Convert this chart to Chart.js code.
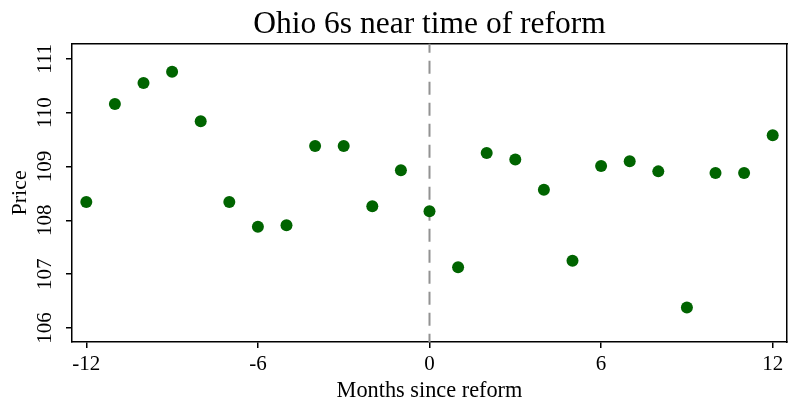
<!DOCTYPE html>
<html>
<head>
<meta charset="utf-8">
<script src="https://cdn.jsdelivr.net/npm/chart.js@4/dist/chart.umd.min.js"></script>
<style>
  html, body { margin: 0; padding: 0; background: #fff; }
  #wrap { width: 788px; height: 408px; }
</style>
</head>
<body>
<div id="wrap"><canvas id="c" width="788" height="408"></canvas></div>
<script>
// Months relative to the reform date
const months = [-12, -11, -10, -9, -8, -7, -6, -5, -4, -3, -2, -1, 0,
                1, 2, 3, 4, 5, 6, 7, 8, 9, 10, 11, 12];
// Ohio 6s price per month
const prices = [108.34, 110.16, 110.55, 110.76, 109.84, 108.34, 107.88, 107.91, 109.38, 109.38, 108.26, 108.93, 108.17,
                107.13, 109.25, 109.13, 108.57, 107.25, 109.01, 109.10, 108.91, 106.38, 108.88, 108.88, 109.58];
const xTicks = [-12, -6, 0, 6, 12];
const yTicks = [106, 107, 108, 109, 110, 111];
const reformMonth = 0;

const serif = '"Liberation Serif", "DejaVu Serif", serif';

// Dashed marker at the reform month
const reformLine = {
  id: 'reformLine',
  beforeDatasetsDraw(chart) {
    const { ctx, chartArea, scales } = chart;
    const x = scales.x.getPixelForValue(reformMonth);
    ctx.save();
    ctx.strokeStyle = '#929292';
    ctx.lineWidth = 2;
    ctx.setLineDash([13, 8]);
    ctx.lineDashOffset = 4;
    ctx.beginPath();
    ctx.moveTo(x, chartArea.top);
    ctx.lineTo(x, chartArea.bottom);
    ctx.stroke();
    ctx.restore();
  }
};

// Vertical (rotated) tick labels on the price axis
const yLabels = {
  id: 'yLabels',
  afterDraw(chart) {
    const { ctx, scales } = chart;
    const y = scales.y;
    ctx.save();
    ctx.fillStyle = '#000';
    ctx.font = '21px ' + serif;
    ctx.textAlign = 'center';
    ctx.textBaseline = 'middle';
    y.ticks.forEach(t => {
      const py = y.getPixelForValue(t.value);
      ctx.save();
      ctx.translate(45.5, py);
      ctx.rotate(-Math.PI / 2);
      ctx.fillText(String(t.value), 0, 0);
      ctx.restore();
    });
    ctx.restore();
  }
};

new Chart(document.getElementById('c'), {
  type: 'scatter',
  data: {
    datasets: [{
      data: months.map((m, i) => ({ x: m, y: prices[i] })),
      backgroundColor: '#006400',
      borderColor: '#006400',
      pointRadius: 6,
      pointBorderWidth: 0
    }]
  },
  options: {
    responsive: false,
    animation: false,
    events: [],
    layout: { autoPadding: false, padding: { left: 0, right: 1, top: 0, bottom: 0 } },
    plugins: {
      legend: { display: false },
      tooltip: { enabled: false },
      title: {
        display: true,
        text: 'Ohio 6s near time of reform',
        fullSize: false,
        color: '#000',
        font: { family: serif, size: 31.5, weight: 'normal', lineHeight: 1.2 },
        padding: { top: 6, bottom: 0 }
      }
    },
    scales: {
      x: {
        type: 'linear',
        min: -12.5,
        max: 12.5,
        afterBuildTicks: s => { s.ticks = xTicks.map(v => ({ value: v })); },
        afterFit: s => { s.height = 66; s.paddingLeft = 0; s.paddingRight = 0; },
        grid: { display: true, drawOnChartArea: false, drawTicks: true, tickLength: 6, color: '#000', lineWidth: 1.5 },
        border: { display: true, color: '#000', width: 1.5 },
        ticks: { color: '#000', font: { family: serif, size: 21 }, padding: 4, maxRotation: 0 },
        title: {
          display: true,
          text: 'Months since reform',
          color: '#000',
          font: { family: serif, size: 22.3 },
          padding: { top: 0, bottom: 3 }
        }
      },
      x2: {
        type: 'linear',
        position: 'top',
        min: -12.5,
        max: 12.5,
        afterFit: s => { s.height = 0; },
        grid: { display: false },
        border: { display: true, color: '#000', width: 1.5 },
        ticks: { display: false }
      },
      y: {
        type: 'linear',
        min: 105.74,
        max: 111.28,
        afterBuildTicks: s => { s.ticks = yTicks.map(v => ({ value: v })); },
        afterFit: s => { s.width = 72; },
        grid: { display: true, drawOnChartArea: false, drawTicks: true, tickLength: 6, color: '#000', lineWidth: 1.5 },
        border: { display: true, color: '#000', width: 1.5 },
        ticks: { display: false },
        title: {
          display: true,
          text: 'Price',
          color: '#000',
          font: { family: serif, size: 22 },
          padding: { top: 7, bottom: 0 }
        }
      },
      y2: {
        type: 'linear',
        position: 'right',
        min: 105.74,
        max: 111.28,
        afterFit: s => { s.width = 0; },
        grid: { display: false },
        border: { display: true, color: '#000', width: 1.5 },
        ticks: { display: false }
      }
    }
  },
  plugins: [reformLine, yLabels]
});
</script>
</body>
</html>
